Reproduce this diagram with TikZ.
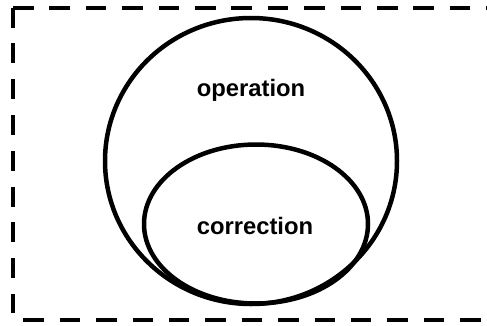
\documentclass[tikz,border=0pt]{standalone}
\usepackage{fontspec}
\setmainfont{Liberation Sans}
\usetikzlibrary{shapes.geometric}
\begin{document}
\begin{tikzpicture}[x=1pt,y=-1pt,
  frame/.style={line width=4pt, dash pattern=on 20.5pt off 15.9pt},
  ring/.style={draw, ellipse, line width=4.5pt, inner sep=0pt},
  lbl/.style={font=\fontsize{23.8}{28}\selectfont\bfseries, anchor=base, inner sep=0pt}]
\useasboundingbox (0,0) rectangle (487,325);
\clip (0,0) rectangle (487,325);
\coordinate (tl) at (13,7.5);
\coordinate (tr) at (500,7.5);
\coordinate (bl) at (13,313);
\coordinate (bs) at (13,319.5);
\coordinate (br) at (500,319.5);
\draw[frame] (tl) -- (tr);
\draw[frame, dash pattern=on 20pt off 15.8pt] (tl) -- (bl);
\draw[frame, dash pattern=on 20.5pt off 15.9pt, dash phase=26.1pt] (bs) -- (br);
\node[ring, minimum width=292pt, minimum height=286pt] (op) at (251,161) {};
\node[ring, minimum width=224pt, minimum height=159pt] (co) at (256,224) {};
\node[lbl] (optext) at (251,96) {operation};
\node[lbl] (cotext) at (255,234) {correction};
\end{tikzpicture}
\end{document}
